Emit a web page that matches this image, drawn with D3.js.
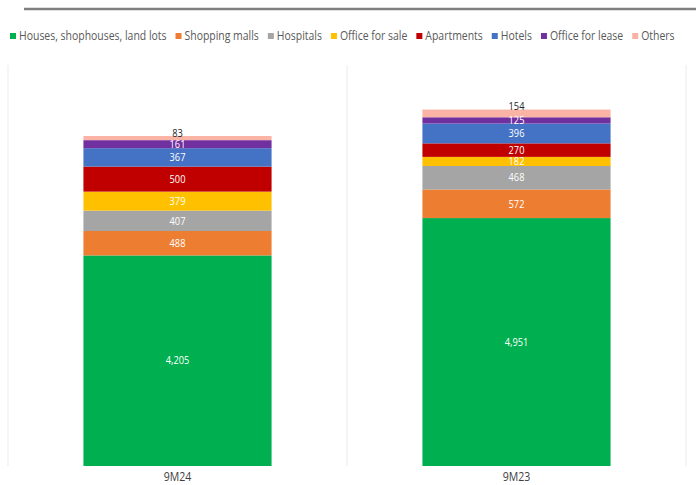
<!DOCTYPE html>
<html><head><meta charset="utf-8">
<script src="https://cdn.jsdelivr.net/npm/d3@7/dist/d3.min.js"></script>
<style>
html,body{margin:0;padding:0;background:#fff;}
svg{display:block;font-family:"Open Sans",sans-serif;}
</style></head>
<body><svg id="chart" width="696" height="485"></svg>
<script>
const categories = ["9M24", "9M23"];
const seriesNames = ["Houses, shophouses, land lots","Shopping malls","Hospitals","Office for sale","Apartments","Hotels","Office for lease","Others"];
const houses = [4205, 4951];
const malls = [488, 572];
const hospitals = [407, 468];
const officeSale = [379, 182];
const apartments = [500, 270];
const hotels = [367, 396];
const officeLease = [161, 125];
const others = [83, 154];
const colors = ["#00B050","#ED7D31","#A5A5A5","#FFC000","#C00000","#4472C4","#7030A0","#FAB3A5"];

const seriesValues = [houses, malls, hospitals, officeSale, apartments, hotels, officeLease, others];
const rows = categories.map((c,i)=>{ const o={cat:c}; seriesNames.forEach((s,j)=>o[s]=seriesValues[j][i]); return o; });
const stack = d3.stack().keys(seriesNames)(rows);

const svg = d3.select("#chart");
const plotTop = 65, plotBottom = 466;
const x = d3.scaleBand().domain(categories).range([8, 686]).paddingInner(0.445).paddingOuter(0.2225);
const y = d3.scaleLinear().domain([0, 6590*(plotBottom-plotTop)/330]).range([plotBottom, plotTop]);

// top rule
svg.append("line").attr("x1",24).attr("x2",696).attr("y1",9).attr("y2",9)
  .attr("stroke","#7f7f7f").attr("stroke-width",2.5);

// panel separators
const step = x.step();
[0,1,2].forEach(i=>{
  const xx = 8 + i*step;
  svg.append("line").attr("x1",xx).attr("x2",xx).attr("y1",plotTop).attr("y2",plotBottom)
    .attr("stroke","#ebebeb").attr("stroke-width",1);
});

// bars
const g = svg.append("g");
stack.forEach((layer,j)=>{
  g.selectAll(null).data(layer).enter().append("rect")
    .attr("x", d=>x(d.data.cat)).attr("width", x.bandwidth())
    .attr("y", d=>y(d[1])).attr("height", d=>y(d[0])-y(d[1]))
    .attr("fill", colors[j]);
});
const fmt = d3.format(",");
const squeeze = 0.88;
stack.forEach((layer,j)=>{
  const last = j === stack.length-1;
  g.selectAll(null).data(layer).enter().append("text")
    .attr("x", d=>x(d.data.cat)+x.bandwidth()/2)
    .attr("y", d=> last ? y(d[1])+0.5 : (y(d[0])+y(d[1]))/2)
    .attr("dy", last ? "0" : "0.36em")
    .attr("text-anchor","middle")
    .attr("font-size","10.5px")
    .attr("fill", last ? "#262626" : "#ffffff")
    .text(d=>fmt(d[1]-d[0]))
    .each(function(){ const w=this.getComputedTextLength(); d3.select(this).attr("textLength", w*squeeze).attr("lengthAdjust","spacingAndGlyphs"); });
});

// x axis labels
const xAxis = d3.axisBottom(x).tickSize(0).tickPadding(6);
const ax = svg.append("g").attr("transform",`translate(0,${plotBottom})`).call(xAxis);
ax.select(".domain").remove();
ax.selectAll("text").attr("font-size","12px").attr("fill","#404040")
  .attr("font-family","\"Open Sans\",sans-serif")
  .each(function(){ const w=this.getComputedTextLength(); d3.select(this).attr("textLength", w*squeeze).attr("lengthAdjust","spacingAndGlyphs"); });

// legend
const leg = svg.append("g").attr("transform","translate(10,36)");
let cx = 0;
seriesNames.forEach((s,j)=>{
  const it = leg.append("g").attr("transform",`translate(${cx},0)`);
  it.append("rect").attr("x",0).attr("y",-3).attr("width",6).attr("height",6).attr("fill",colors[j]);
  const t = it.append("text").attr("x",9).attr("y",0).attr("dy","0.36em")
    .attr("font-size","12px").attr("fill","#595959").text(s);
  const w = t.node().getComputedTextLength()*0.87;
  t.attr("textLength", w).attr("lengthAdjust","spacingAndGlyphs");
  cx += 9 + w + 9;
});
</script></body></html>
